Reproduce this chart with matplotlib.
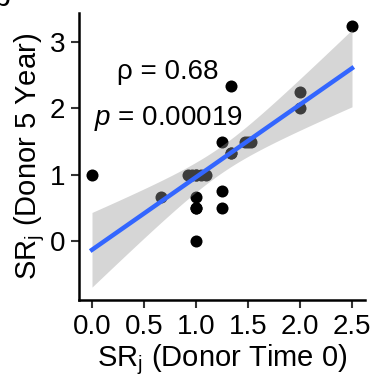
import numpy as np
import matplotlib
matplotlib.use("Agg")
import matplotlib.pyplot as plt

plt.rcParams['font.family'] = ['Liberation Sans', 'DejaVu Sans']
plt.rcParams['mathtext.fontset'] = 'custom'
plt.rcParams['mathtext.rm'] = 'Liberation Sans'
plt.rcParams['mathtext.it'] = 'Liberation Sans:italic'

x_time0 = [0.0, 0.667, 0.92, 0.96, 1.0, 1.0, 1.05, 1.1, 1.0, 1.0, 1.0, 1.0, 1.25, 1.25,
           1.25, 1.333, 1.333, 1.333, 1.47, 1.5, 1.53, 2.0, 2.0, 2.5]
y_5year = [1.0, 0.667, 1.0, 1.0, 1.0, 1.0, 1.0, 1.0, 0.0, 0.5, 0.5, 0.667, 0.5, 0.75,
           1.5, 1.333, 1.333, 2.333, 1.5, 1.5, 1.5, 2.0, 2.25, 3.25]
rho_text = "ρ = 0.68"
p_text = "$p$ = 0.00019"
x_ticks = [0.0, 0.5, 1.0, 1.5, 2.0, 2.5]
x_ticklabels = ["0.0", "0.5", "1.0", "1.5", "2.0", "2.5"]
y_ticks = [0, 1, 2, 3]
y_ticklabels = ["0", "1", "2", "3"]

x = np.array(x_time0)
y = np.array(y_5year)
n = len(x)
slope, intercept = np.polyfit(x, y, 1)
xs = np.linspace(x.min(), x.max(), 100)
ys = intercept + slope * xs
resid = y - (intercept + slope * x)
s = np.sqrt(np.sum(resid ** 2) / (n - 2))
sxx = np.sum((x - x.mean()) ** 2)
se = s * np.sqrt(1.0 / n + (xs - x.mean()) ** 2 / sxx)
tval = 2.074  # t quantile, df = 22
lo = ys - tval * se
hi = ys + tval * se

fig = plt.figure(figsize=(3.74, 3.84), dpi=100)
ax = fig.add_axes([79 / 374, 1 - 300 / 384, (365 - 79) / 374, (300 - 13) / 384])

ax.scatter(x, y, s=75, color='black', zorder=2, linewidths=0)
ax.fill_between(xs, lo, hi, color='#999999', alpha=0.4, linewidth=0, zorder=3)
ax.plot(xs, ys, color='#3366FF', linewidth=3.2, zorder=4)

ax.text(0.73, 2.55, rho_text, ha='center', va='center', fontsize=20)
ax.text(0.73, 1.85, p_text, ha='center', va='center', fontsize=20)

ax.set_xlim(-0.125, 2.625)
ax.set_ylim(-0.89, 3.44)
ax.set_xticks(x_ticks)
ax.set_xticklabels(x_ticklabels)
ax.set_yticks(y_ticks)
ax.set_yticklabels(y_ticklabels)
for sp in ['top', 'right']:
    ax.spines[sp].set_visible(False)
for sp in ['left', 'bottom']:
    ax.spines[sp].set_linewidth(1.8)
ax.tick_params(axis='both', labelsize=20, width=1.5, length=6, color='#333333', pad=4)
ax.set_xlabel("SR$_\\mathrm{j}$ (Donor Time 0)", fontsize=21, labelpad=2)
ax.set_ylabel("SR$_\\mathrm{j}$ (Donor 5 Year)", fontsize=21, labelpad=2)

fig.text(10 / 374, 1 - 6 / 384, "b", fontsize=22, ha='right', va='baseline')

fig.savefig("out.png", dpi=100)
